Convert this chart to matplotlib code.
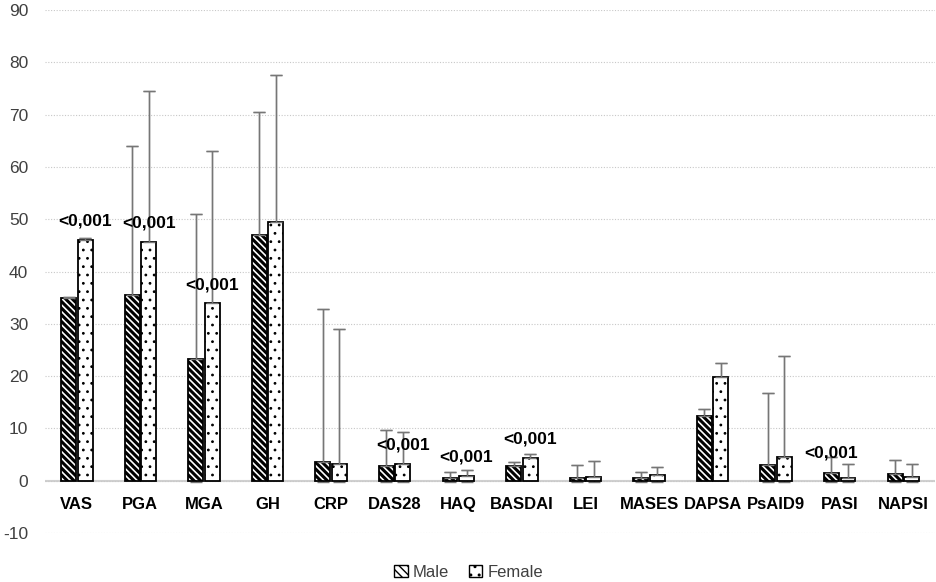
import matplotlib
matplotlib.use("Agg")
import matplotlib.pyplot as plt
import numpy as np
from matplotlib.patches import Patch

plt.rcParams['font.family'] = ['Liberation Sans', 'DejaVu Sans']
plt.rcParams['axes.unicode_minus'] = False

categories = ["VAS", "PGA", "MGA", "GH", "CRP", "DAS28", "HAQ", "BASDAI",
              "LEI", "MASES", "DAPSA", "PsAID9", "PASI", "NAPSI"]
male = [35.0, 35.5, 23.3, 47.0, 3.5, 2.8, 0.6, 2.9, 0.6, 0.5, 12.3, 3.0, 1.4, 1.3]
male_err = [0.2, 28.5, 27.7, 23.5, 29.3, 7.0, 1.1, 0.6, 2.5, 1.2, 1.5, 13.8, 3.1, 2.6]
female = [46.0, 45.7, 34.0, 49.5, 3.3, 3.3, 0.9, 4.4, 0.8, 1.2, 19.8, 4.6, 0.6, 0.8]
female_err = [0.4, 28.8, 29.0, 28.0, 25.7, 6.0, 1.2, 0.7, 3.0, 1.4, 2.7, 19.2, 2.7, 2.4]

# p-value labels: (category index, bar side: -1 male / +1 female, height)
pvals = [(0, 1, 49.7), (1, 1, 49.3), (2, 1, 37.5), (5, 1, 6.9),
         (6, 1, 4.6), (7, 1, 8.0), (12, -1, 5.3)]

fig = plt.figure(figsize=(9.37, 5.82), dpi=100)
ax = fig.add_axes([0.048, 0.084, 0.950, 0.899])

x = np.arange(len(categories))
w = 0.235
off = 0.13
male = np.array(male)
female = np.array(female)
male_err = np.array(male_err)
female_err = np.array(female_err)

# lower whiskers stop around the zero line
m_low = np.minimum(male_err, male + 0.3)
f_low = np.minimum(female_err, female + 0.3)

err_kw = dict(fmt="none", ecolor="#767676", elinewidth=1.0, capsize=4, capthick=1.0)
ax.errorbar(x - off, male, yerr=[m_low, male_err], zorder=2, **err_kw)
ax.errorbar(x + off, female, yerr=[f_low, female_err], zorder=2, **err_kw)

with plt.rc_context({'hatch.linewidth': 2.2}):
    ax.bar(x - off, male, w, color="white", edgecolor="black", hatch="\\\\\\\\\\",
           linewidth=1.3, zorder=3)
with plt.rc_context({'hatch.linewidth': 0.8}):
    ax.bar(x + off, female, w, color="white", edgecolor="black", hatch="..",
           linewidth=1.3, zorder=3)

# upper whiskers drawn again over the bars
ax.errorbar(x - off, male, yerr=[np.zeros(len(male)), male_err], zorder=4, **err_kw)
ax.errorbar(x + off, female, yerr=[np.zeros(len(female)), female_err], zorder=4, **err_kw)

for i, side, h in pvals:
    ax.text(x[i] + side * off, h, "<0,001", ha="center", va="center",
            fontsize=12.5, fontweight="bold", color="black", zorder=5)

for i, c in enumerate(categories):
    ax.text(x[i], -4.5, c, ha="center", va="center", fontsize=12,
            fontweight="bold", color="black")

ax.set_xlim(-0.5, len(categories) - 0.5)
ax.set_ylim(-10, 90)
ax.set_yticks(np.arange(-10, 91, 10))
ax.set_xticks([])
ax.tick_params(axis="y", length=0, labelsize=12.5, labelcolor="#404040", pad=12)
ax.grid(axis="y", color="#c8c8c8", linestyle=(0, (1, 1.5)), linewidth=0.8, zorder=0)
ax.axhline(0, color="#d0d0d0", linewidth=1.5, zorder=1)
for s in ax.spines.values():
    s.set_visible(False)

with plt.rc_context({'hatch.linewidth': 1.5}):
    handles = [Patch(facecolor="white", edgecolor="black", hatch="\\\\\\\\", label="Male"),
               Patch(facecolor="white", edgecolor="black", hatch="..", label="Female")]
fig.legend(handles=handles, loc="center", bbox_to_anchor=(0.5, 0.017), ncol=2,
           frameon=False, fontsize=12, handlelength=0.8, handleheight=0.8,
           handletextpad=0.3, columnspacing=1.2, labelcolor="#404040")

fig.savefig("out.png", dpi=100)
